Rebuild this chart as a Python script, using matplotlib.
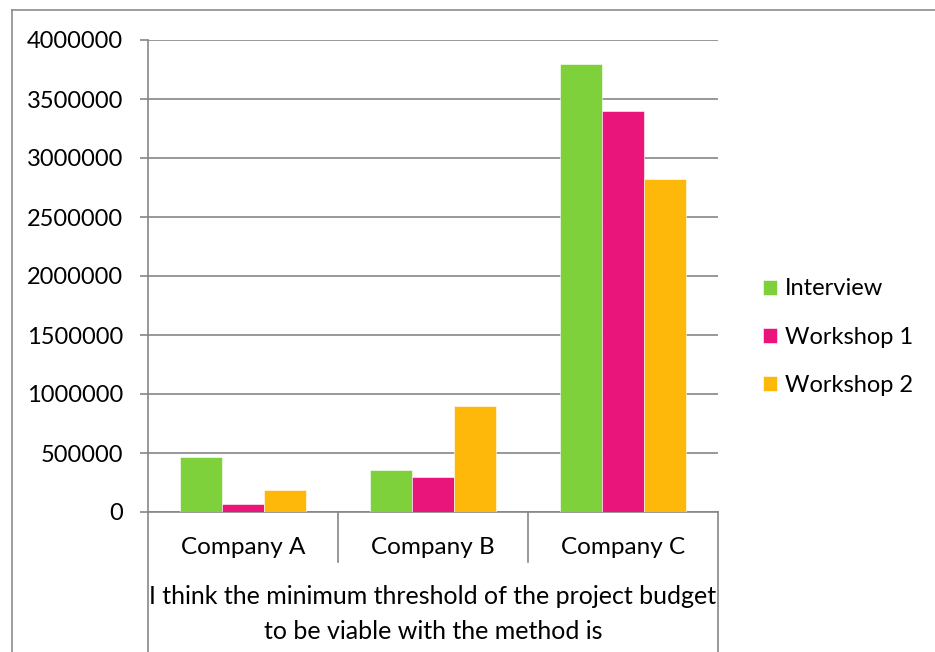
import matplotlib.pyplot as plt
import numpy as np
from matplotlib.lines import Line2D
from matplotlib.transforms import blended_transform_factory

plt.rcParams['font.family'] = ['Lato', 'DejaVu Sans']

companies = ['Company A', 'Company B', 'Company C']
interview = [470000, 360000, 3800000]
workshop1 = [70000, 295000, 3400000]
workshop2 = [190000, 900000, 2825000]
series_names = ['Interview', 'Workshop 1', 'Workshop 2']
colors = ['#7fd13b', '#ea157a', '#feb80a']
title_lines = 'I think the minimum threshold of the project budget\nto be viable with the method is'

grid_col = '#868686'
W, H = 935, 652
fig = plt.figure(figsize=(W / 100, H / 100), dpi=100)
ax = fig.add_axes([148 / W, 1 - 512 / H, 570 / W, 472 / H])

x = np.arange(len(companies))
bw = 1 / 4.5
for i, (vals, name, c) in enumerate(zip([interview, workshop1, workshop2], series_names, colors)):
    ax.bar(x + (i - 1) * bw, vals, bw, color=c, edgecolor='white', linewidth=0.4,
           label=name, zorder=3)

ax.set_xlim(-0.5, 2.5)
ax.set_ylim(0, 4000000)
ax.set_yticks(np.arange(0, 4000001, 500000))
ax.yaxis.set_major_formatter(plt.FuncFormatter(lambda v, p: f'{int(v)}'))
ax.grid(axis='y', color=grid_col, linewidth=1.2, zorder=0)
ax.tick_params(axis='y', length=6, width=1.2, color=grid_col, pad=12, labelsize=17)
ax.set_xticks(x)
ax.set_xticklabels(companies)
ax.tick_params(axis='x', length=0, pad=18, labelsize=17.5)

for s in ['top', 'right']:
    ax.spines[s].set_visible(False)
for s in ['left', 'bottom']:
    ax.spines[s].set_color(grid_col)
    ax.spines[s].set_linewidth(1.2)

# category dividers below the axis
trans = blended_transform_factory(ax.transData, ax.transAxes)
for xb in [0.5, 1.5]:
    ax.add_line(Line2D([xb, xb], [0, -50 / 472], transform=trans, color=grid_col,
                       linewidth=1.2, clip_on=False))
for xb in [-0.5, 2.5]:
    ax.add_line(Line2D([xb, xb], [0, -142 / 472], transform=trans, color=grid_col,
                       linewidth=1.2, clip_on=False))

fig.text(433 / W, 1 - 614 / H, title_lines, ha='center', va='center', fontsize=18,
         linespacing=1.6)

ax.legend(loc='center left', bbox_to_anchor=(763 / W, 1 - 337 / H),
          bbox_transform=fig.transFigure, frameon=False, fontsize=17,
          borderpad=0, borderaxespad=0,
          handlelength=0.6, handleheight=0.6, handletextpad=0.34, labelspacing=1.15)

# outer chart border
fig.add_artist(Line2D([12 / W, 12 / W], [0, 1 - 10 / H], color='#8c8c8c', linewidth=1.2))
fig.add_artist(Line2D([12 / W, 1], [1 - 10 / H, 1 - 10 / H], color='#8c8c8c', linewidth=1.2))

fig.savefig('out.png', dpi=100)
